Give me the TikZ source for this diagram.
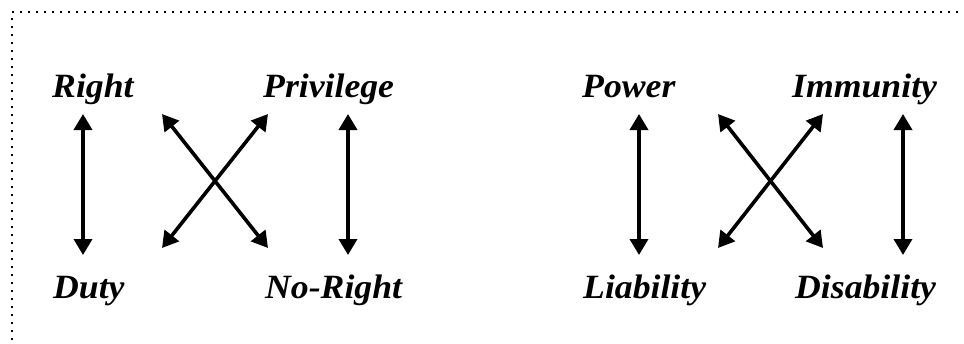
\documentclass[tikz,border=0pt]{standalone}
\usepackage{fontspec}
\setmainfont{Liberation Serif}
\usetikzlibrary{arrows.meta}
\newcommand{\wlbl}[1]{\scalebox{1.05}[1]{#1}}
\tikzset{
  lbl/.style={anchor=base west, inner sep=0pt, font=\fontsize{34}{38}\selectfont\bfseries\itshape},
  rel/.style={line width=3.6pt, {Triangle[length=16pt,width=18pt]}-{Triangle[length=16pt,width=18pt]}},
  frame/.style={line width=1.9pt, dash pattern=on 1.9pt off 6.1pt}
}
\begin{document}
\begin{tikzpicture}[x=1pt,y=-1pt]
\useasboundingbox (0,0) rectangle (964,343);
\coordinate (fc) at (12,12);
\coordinate (fr) at (966,12);
\coordinate (fb) at (12,345);
\draw[frame] (fr) -- (fc) -- (fb);
% labels
\node[lbl] (right) at (52,97) {\wlbl{Right}};
\node[lbl] (priv) at (263,97) {\wlbl{Privilege}};
\node[lbl] (duty) at (53,298) {\wlbl{Duty}};
\node[lbl] (noright) at (265,298) {\wlbl{No-Right}};
\node[lbl] (power) at (582,97) {\wlbl{Power}};
\node[lbl] (immun) at (792,97) {\wlbl{Immunity}};
\node[lbl] (liab) at (583,298) {\wlbl{Liability}};
\node[lbl] (disab) at (795,298) {\wlbl{Disability}};
% arrow ends, left group
\coordinate (r1) at (83,114);  \coordinate (d1) at (83,255);
\coordinate (p1) at (348,114); \coordinate (n1) at (348,255);
\coordinate (xa) at (162,114); \coordinate (xb) at (268,248);
\coordinate (xc) at (268,114); \coordinate (xd) at (162,248);
% right group
\coordinate (r2) at (639,114); \coordinate (d2) at (639,255);
\coordinate (p2) at (903,114); \coordinate (n2) at (903,255);
\coordinate (ya) at (718,114); \coordinate (yb) at (823,248);
\coordinate (yc) at (823,114); \coordinate (yd) at (718,248);
\draw[rel] (r1) -- (d1);
\draw[rel] (p1) -- (n1);
\draw[rel] (xa) -- (xb);
\draw[rel] (xc) -- (xd);
\draw[rel] (r2) -- (d2);
\draw[rel] (p2) -- (n2);
\draw[rel] (ya) -- (yb);
\draw[rel] (yc) -- (yd);
\end{tikzpicture}
\end{document}
